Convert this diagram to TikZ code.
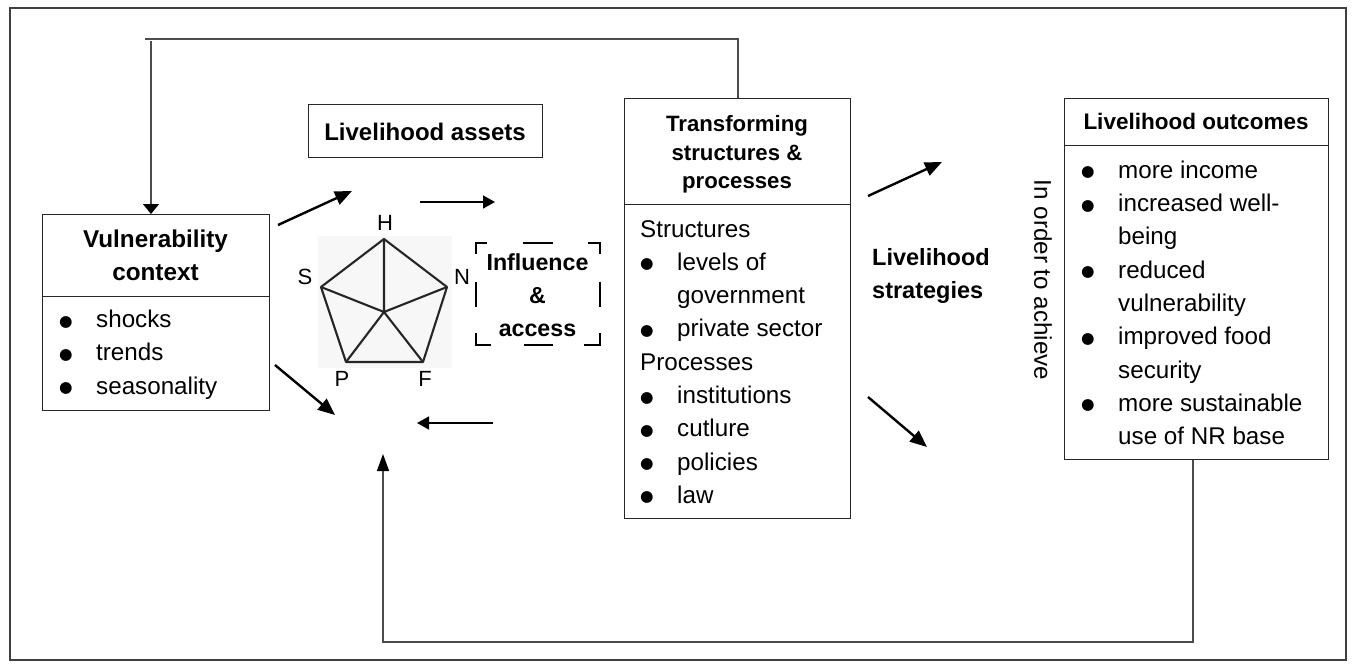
\documentclass[tikz,border=0pt]{standalone}
\usepackage{fontspec}
\setmainfont{Liberation Sans}
\newfontfamily\symfont{DejaVu Sans}
\usetikzlibrary{arrows.meta,calc}
\newcommand{\bul}{\raisebox{1.5pt}{\symfont\fontsize{15.5}{15.5}\selectfont ●}}
\newcommand{\bi}{\makebox[37pt][l]{\bul}}
\newcommand{\ind}{\hspace*{37pt}}
\tikzset{
  box/.style={draw=black!85, line width=1.1pt, inner sep=0pt, anchor=north west},
  bodytxt/.style={font=\fontsize{24.2}{33.3}\selectfont, inner sep=0pt, anchor=base west},
  headtxt/.style={inner sep=0pt, anchor=base},
  conn/.style={draw=black!70, line width=1.4pt},
  bigarr/.style={line width=2.4pt, -{Triangle[length=17pt,width=14pt]}},
  thinarr/.style={line width=1.5pt, -{Triangle[length=12pt,width=13pt]}},
  lbl/.style={font=\fontsize{22}{22}\selectfont, inner sep=0pt, anchor=base},
  dashpart/.style={line width=2pt, line cap=butt},
  pent/.style={draw=black!85, line width=2.1pt, line join=round},
}
\begin{document}
\begin{tikzpicture}[x=1pt,y=-1pt]
\useasboundingbox (0,0) rectangle (1352,664);
% outer frame
\node[draw=black!75, line width=1.8pt, inner sep=0pt, anchor=north west,
      minimum width=1336pt, minimum height=652pt] (frame) at (9,7) {};

% Vulnerability context
\node[box, minimum width=227pt, minimum height=82pt] (vulnH) at (42,214) {};
\node[box, minimum width=227pt, minimum height=114pt] (vulnB) at (42,296) {};
\node[headtxt, font=\bfseries\fontsize{24.3}{33.4}\selectfont] (vulnT) at (155.5,247.3)
  {\begin{tabular}[t]{@{}c@{}}Vulnerability\\context\end{tabular}};
\node[bodytxt] (vulnL) at (59,327.5)
  {\begin{tabular}[t]{@{}l@{}}\bi shocks\\ \bi trends\\ \bi seasonality\end{tabular}};

% Livelihood assets
\node[box, minimum width=234pt, minimum height=53pt] (assets) at (308,104) {};
\node[headtxt, font=\bfseries\fontsize{24}{24}\selectfont] (assetsT) at (425,140) {Livelihood assets};

% pentagon
\fill[black!3] (318,236) rectangle (452,368);
\coordinate (pH) at (384,239);
\coordinate (pN) at (447,287);
\coordinate (pF) at (423,362);
\coordinate (pP) at (346,362);
\coordinate (pS) at (321,287);
\coordinate (pC) at (384,312);
\draw[pent] (pH) -- (pN) -- (pF) -- (pP) -- (pS) -- cycle;
\draw[pent] (pC) -- (pH) (pC) -- (pN) (pC) -- (pF) (pC) -- (pP) (pC) -- (pS);
\node[lbl] (lH) at (385,230) {H};
\node[lbl] (lS) at (305,284) {S};
\node[lbl] (lN) at (462,284) {N};
\node[lbl] (lP) at (342,386.7) {P};
\node[lbl] (lF) at (425,386.7) {F};

% Influence & access
\node[inner sep=0pt, anchor=north west, minimum width=124pt, minimum height=102pt] (infl) at (476,243) {};
\node[headtxt, font=\bfseries\fontsize{23.2}{32.7}\selectfont] (inflT) at (537.5,270.7)
  {\begin{tabular}[t]{@{}c@{}}Influence\\\&\\access\end{tabular}};
\draw[dashpart] ([xshift=11pt]infl.north west) -- (infl.north west) -- ([yshift=-11pt]infl.north west);
\draw[dashpart] ([xshift=-12pt]infl.north east) -- (infl.north east) -- ([yshift=-11pt]infl.north east);
\draw[dashpart] ([xshift=15pt]infl.south west) -- (infl.south west) -- ([yshift=12pt]infl.south west);
\draw[dashpart] ([xshift=-16pt]infl.south east) -- (infl.south east) -- ([yshift=12pt]infl.south east);
\draw[dashpart] ([xshift=-15pt]infl.north) -- ([xshift=15pt]infl.north);
\draw[dashpart] ([xshift=-14pt]infl.south) -- ([xshift=15pt]infl.south);
\draw[dashpart] ([yshift=12.5pt]infl.west) -- ([yshift=-12.5pt]infl.west);
\draw[dashpart] ([yshift=12.5pt]infl.east) -- ([yshift=-12.5pt]infl.east);

% Transforming structures & processes
\node[box, minimum width=226pt, minimum height=106pt] (transH) at (624,98) {};
\node[box, minimum width=226pt, minimum height=314pt] (transB) at (624,204) {};
\node[headtxt, font=\bfseries\fontsize{22.2}{28.3}\selectfont] (transT) at (737,131.7)
  {\begin{tabular}[t]{@{}c@{}}Transforming\\structures \&\\processes\end{tabular}};
\node[bodytxt] (transL) at (640,237)
  {\begin{tabular}[t]{@{}l@{}}Structures\\ \bi levels of\\ \ind government\\ \bi private sector\\
   Processes\\ \bi institutions\\ \bi cutlure\\ \bi policies\\ \bi law\end{tabular}};

% Livelihood strategies
\node[inner sep=0pt, anchor=base west, font=\bfseries\fontsize{23.5}{32.6}\selectfont] (strat) at (872,265.7)
  {\begin{tabular}[t]{@{}l@{}}Livelihood\\strategies\end{tabular}};

% In order to achieve
\node[rotate=-90, inner sep=0pt, font=\fontsize{24.2}{24.2}\selectfont] (achieve) at (1043,280) {In order to achieve};

% Livelihood outcomes
\node[box, minimum width=264pt, minimum height=47pt] (outH) at (1064,98) {};
\node[box, minimum width=264pt, minimum height=314pt] (outB) at (1064,145) {};
\node[headtxt, font=\bfseries\fontsize{22.5}{22.5}\selectfont] (outT) at (1196,129.3) {Livelihood outcomes};
\node[bodytxt] (outL) at (1081,178.3)
  {\begin{tabular}[t]{@{}l@{}}\bi more income\\ \bi increased well-\\ \ind being\\ \bi reduced\\
   \ind vulnerability\\ \bi improved food\\ \ind security\\ \bi more sustainable\\ \ind use of NR base\end{tabular}};

% connectors
\coordinate (topR) at (738,39);
\coordinate (topL) at (151,41);
\coordinate (topEnd) at (145,39);
\draw[conn] (transH.north -| topR) -- (topR) -- (topEnd);
\draw[conn, -{Triangle[length=10pt,width=16pt,color=black]}] (topL) -- (topL |- vulnH.north);

\coordinate (botR) at (1193,642);
\coordinate (botL) at (383,642);
\coordinate (upTip) at (383,454);
\draw[conn, -{Triangle[length=17pt,width=12pt,color=black]}] (outB.south -| botR) -- (botR) -- (botL) -- (upTip);

% arrows around assets
\coordinate (a1s) at (278,225); \coordinate (a1e) at (352,191);
\coordinate (a2s) at (420,202); \coordinate (a2e) at (495,202);
\coordinate (a3s) at (275,365); \coordinate (a3e) at (335,415);
\coordinate (a4s) at (493,423); \coordinate (a4e) at (417,423);
\draw[bigarr] (a1s) -- (a1e);
\draw[thinarr] (a2s) -- (a2e);
\draw[bigarr] (a3s) -- (a3e);
\draw[thinarr] (a4s) -- (a4e);

% arrows to strategies
\coordinate (t1s) at (868,196); \coordinate (t1e) at (942,162);
\coordinate (t2s) at (868,397); \coordinate (t2e) at (927,447);
\draw[bigarr] (t1s) -- (t1e);
\draw[bigarr] (t2s) -- (t2e);
\end{tikzpicture}
\end{document}
